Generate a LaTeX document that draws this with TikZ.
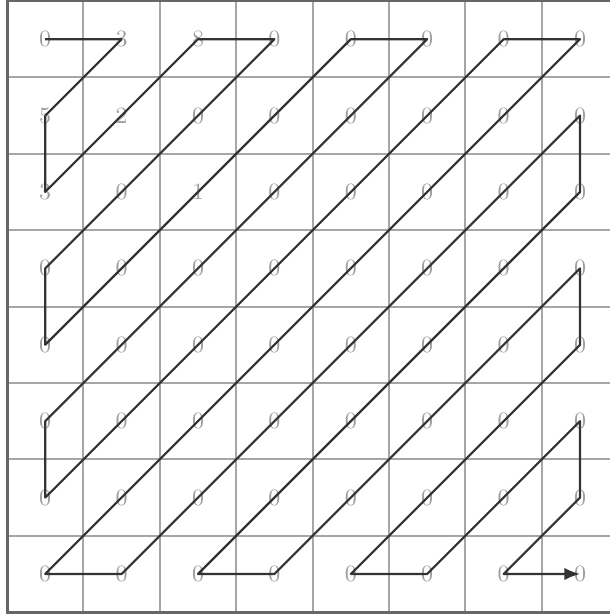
\documentclass[tikz,border=0pt]{standalone}
\usepackage{tikz}
\usetikzlibrary{arrows.meta}

\begin{document}
\begin{tikzpicture}[
    gridline/.style={gray!70,line width=0.7pt},
    frame/.style={black!60,line width=1.1pt},
    coef/.style={text=gray!75,font=\fontsize{8.7}{10}\selectfont,inner sep=0pt},
    zigzag/.style={black!80,line width=0.8pt,line join=round,-{Latex[length=5.8pt,width=4.6pt]}}]
    \useasboundingbox (-0.092,0.013) rectangle (7.88,-8.037);
    % Gitter og ramme
    \draw[gridline] (0,0) grid (8,-8);
    \draw[frame] (0,0) rectangle (8,-8);
    % Koefficienterne, række for række
    \foreach \row [count=\rw from 0] in {{0,3,8,0,0,0,0,0},{5,2,0,0,0,0,0,0},{3,0,1,0,0,0,0,0},
        {0,0,0,0,0,0,0,0},{0,0,0,0,0,0,0,0},{0,0,0,0,0,0,0,0},{0,0,0,0,0,0,0,0},{0,0,0,0,0,0,0,0}}
      \foreach \v [count=\col from 0] in \row
        \node[coef] (v-\rw-\col) at (\col+0.5,-\rw-0.5) {\v};
    % Zigzag-rækkefølgen langs antidiagonalerne
    \gdef\zzpath{(v-0-0.center)}
    \foreach \s in {1,...,14}{
      \pgfmathtruncatemacro\rlo{max(0,\s-7)}
      \pgfmathtruncatemacro\rhi{min(\s,7)}
      \ifodd\s \edef\rlist{\rlo,...,\rhi}\else \edef\rlist{\rhi,...,\rlo}\fi
      \foreach \rr in \rlist {
        \pgfmathtruncatemacro\cc{\s-\rr}
        \xdef\zzpath{\zzpath -- (v-\rr-\cc.center)}
      }
    }
    \edef\zzdraw{\noexpand\draw[zigzag] \zzpath;}
    \zzdraw
  \end{tikzpicture}
\end{document}
